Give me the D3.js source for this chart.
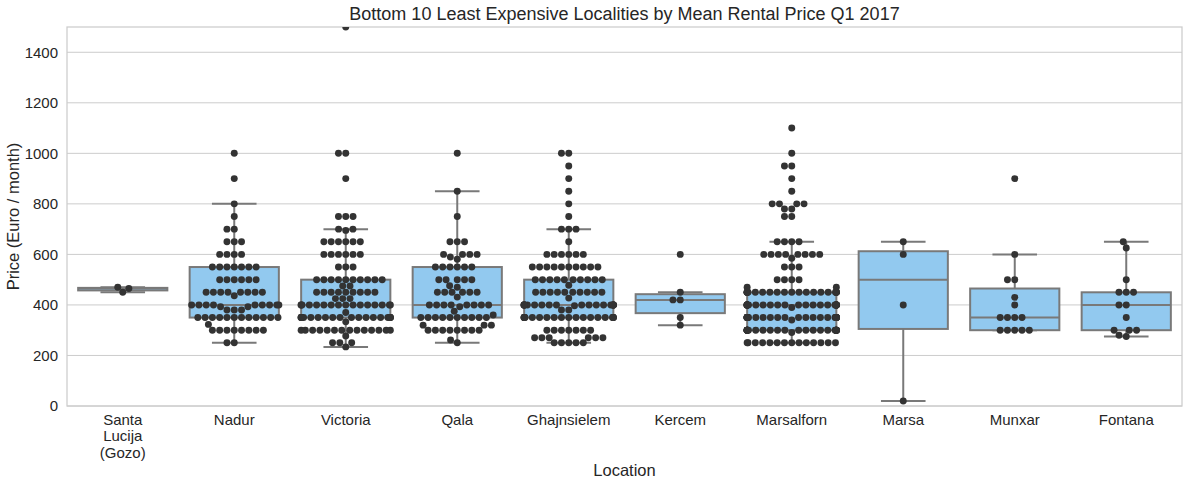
<!DOCTYPE html>
<html><head><meta charset="utf-8">
<script src="https://cdn.jsdelivr.net/npm/d3@7"></script>
<style>
body{margin:0;background:#fff}
svg{font-family:"Liberation Sans",Arial,Helvetica,sans-serif}
</style>
</head><body>
<svg id="chart" width="1190" height="486"></svg>
<script>
// ---------------- data ----------------
const categories = ["Santa Lucija (Gozo)","Nadur","Victoria","Qala","Ghajnsielem","Kercem","Marsalforn","Marsa","Munxar","Fontana"];
const categoryLabels = [["Santa","Lucija","(Gozo)"],["Nadur"],["Victoria"],["Qala"],["Ghajnsielem"],["Kercem"],["Marsalforn"],["Marsa"],["Munxar"],["Fontana"]];
const yTicks = [0,200,400,600,800,1000,1200,1400];

const santaLucija = [450,465,470];
const nadur = [250,250,
  300,300,300,300,300,300,300,300,
  323,
  350,350,350,350,350,350,350,350,350,350,350,350,
  380,380,380,393,393,
  400,400,400,400,400,400,400,400,400,
  436,
  450,450,450,450,450,450,450,450,
  500,500,500,500,500,500,
  550,550,550,550,550,550,550,
  600,600,600,600,
  650,650,650,
  700,700,750,800,900,1000];
const victoria = [234,250,250,250,277,
  300,300,300,300,300,300,300,300,300,300,300,300,300,300,
  333,
  350,350,350,350,350,350,350,350,350,350,350,350,350,350,350,350,350,350,
  370,
  400,400,400,400,400,400,400,400,400,400,400,400,400,400,400,400,
  425,425,425,
  450,450,450,450,450,450,450,450,450,
  475,475,
  500,500,500,500,500,500,500,500,500,500,
  550,550,550,
  600,600,600,600,600,600,
  650,650,650,650,650,650,
  695,700,700,
  750,750,750,900,1000,1000,1500];
const qala = [250,261,
  300,300,300,300,300,300,300,300,
  320,320,320,
  350,350,350,350,350,350,350,350,350,350,
  360,375,393,
  400,400,400,400,400,400,400,400,
  431,
  450,450,450,450,450,450,
  470,476,
  500,500,500,500,500,
  550,550,550,550,550,550,
  581,590,
  600,600,600,600,
  650,650,650,
  750,850,1000];
const ghajnsielem = [250,250,250,250,250,
  270,270,270,270,270,270,
  300,300,300,300,300,300,300,
  350,350,350,350,350,350,350,350,350,350,350,350,350,350,350,350,350,350,350,350,
  380,380,397,
  400,400,400,400,400,400,400,400,400,400,400,400,400,400,400,400,400,400,400,400,
  427,
  450,450,450,450,450,450,450,450,450,450,
  478,
  500,500,500,500,500,500,500,500,500,500,
  550,550,550,550,550,550,550,550,550,550,
  600,600,600,600,600,600,
  650,700,700,700,
  750,800,850,900,950,1000,1000];
const kercem = [320,350,420,420,450,600];
const marsalforn = [
  250,250,250,250,250,250,250,250,250,250,250,250,250,250,
  291,
  300,300,300,300,300,300,300,300,300,300,300,300,300,300,
  300,300,300,300,300,300,300,300,300,300,300,300,300,300,
  340,
  350,350,350,350,350,350,350,350,350,350,350,350,350,350,
  350,350,350,350,350,350,350,350,350,350,350,350,350,350,
  390,
  400,400,400,400,400,400,400,400,400,400,400,400,400,400,
  400,400,400,400,400,400,400,400,400,400,400,400,400,400,
  450,450,450,450,450,450,450,450,450,450,450,
  450,450,450,450,450,450,450,450,450,450,450,
  470,470,
  500,500,500,500,
  550,550,550,
  585,
  600,600,600,600,600,600,600,600,
  650,650,650,650,
  750,750,780,780,
  800,800,800,800,
  850,900,950,950,1000,1100];
const marsa = [20,400,600,650];
const munxar = [300,300,300,300,300,350,350,350,350,400,430,500,500,600,900];
const fontana = [275,280,300,300,300,350,400,400,450,450,450,500,625,650];

const seriesValues = [santaLucija,nadur,victoria,qala,ghajnsielem,kercem,marsalforn,marsa,munxar,fontana];

// ---------------- layout ----------------
const W = 1190, H = 486;
const plot = {left:67, right:1182, top:27, bottom:406};
const svg = d3.select("#chart");
const textColor = "#262626";
const boxFill = "#92c9ef";
const boxLine = "#797979";
const dotColor = "#333333";
const R = 3.47;

const x = d3.scaleBand().domain(categories).range([plot.left, plot.right]).paddingInner(0).paddingOuter(0);
const y = d3.scaleLinear().domain([0,1500]).range([plot.bottom, plot.top]);
const bw = x.bandwidth();

svg.append("rect").attr("width",W).attr("height",H).attr("fill","#fff");

// grid
svg.append("g").selectAll("line").data(yTicks).join("line")
  .attr("x1",plot.left).attr("x2",plot.right)
  .attr("y1",d=>y(d)).attr("y2",d=>y(d))
  .attr("stroke","#cccccc").attr("stroke-width",1);

// spines
svg.append("rect").attr("x",plot.left).attr("y",plot.top)
  .attr("width",plot.right-plot.left).attr("height",plot.bottom-plot.top)
  .attr("fill","none").attr("stroke","#cccccc").attr("stroke-width",1.25);

// y axis labels via axis generator
const yAxis = d3.axisLeft(y).tickValues(yTicks).tickSize(0).tickPadding(9).tickFormat(d3.format("d"));
const gy = svg.append("g").attr("transform",`translate(${plot.left},0)`).call(yAxis);
gy.select(".domain").remove();
gy.selectAll("text").attr("font-size","15px").attr("fill",textColor)
  .attr("font-family","'Liberation Sans',Arial,sans-serif");

// x axis labels
const xAxis = d3.axisBottom(x).tickSize(0).tickFormat("");
const gx = svg.append("g").attr("transform",`translate(0,${plot.bottom})`).call(xAxis);
gx.select(".domain").remove();
gx.selectAll(".tick").each(function(d,i){
  const t = d3.select(this).append("text").attr("fill",textColor)
    .attr("font-size","15px").attr("text-anchor","middle").attr("y",19);
  categoryLabels[i].forEach((ln,k)=>{
    t.append("tspan").attr("x",0).attr("dy",k===0?0:16.3).text(ln);
  });
});

// boxes
const clip = svg.append("clipPath").attr("id","plotclip").append("rect")
  .attr("x",plot.left).attr("y",plot.top).attr("width",plot.right-plot.left).attr("height",plot.bottom-plot.top);

const gBoxes = svg.append("g");
categories.forEach((c,i)=>{
  const vals = seriesValues[i].slice().sort(d3.ascending);
  const q1 = d3.quantile(vals,0.25), med = d3.quantile(vals,0.5), q3 = d3.quantile(vals,0.75);
  const iqr = q3-q1;
  const lo = d3.min(vals.filter(v=>v>=q1-1.5*iqr));
  const hi = d3.max(vals.filter(v=>v<=q3+1.5*iqr));
  const cx = x(c)+bw/2;
  const g = gBoxes.append("g").attr("stroke",boxLine).attr("stroke-width",2);
  g.append("line").attr("x1",cx).attr("x2",cx).attr("y1",y(q3)).attr("y2",y(hi));
  g.append("line").attr("x1",cx).attr("x2",cx).attr("y1",y(q1)).attr("y2",y(lo));
  g.append("line").attr("x1",cx-bw*0.2).attr("x2",cx+bw*0.2).attr("y1",y(hi)).attr("y2",y(hi));
  g.append("line").attr("x1",cx-bw*0.2).attr("x2",cx+bw*0.2).attr("y1",y(lo)).attr("y2",y(lo));
  g.append("rect").attr("x",cx-bw*0.4).attr("width",bw*0.8)
    .attr("y",y(q3)).attr("height",Math.max(y(q1)-y(q3),0.01)).attr("fill",boxFill);
  g.append("line").attr("x1",cx-bw*0.4).attr("x2",cx+bw*0.4).attr("y1",y(med)).attr("y2",y(med));
});

// swarm (seaborn-like beeswarm)
function beeswarm(vals, mid){
  const pts = vals.map(v=>({v, x:mid, y:y(v)})).sort((a,b)=>a.v-b.v);
  const swarm = [];
  const d2 = (2*R)*(2*R);
  pts.forEach(p=>{
    const neighbors = [];
    for(let j=swarm.length-1;j>=0;j--){
      if (swarm[j].y - p.y < 2*R) neighbors.push(swarm[j]); else break;
    }
    neighbors.reverse();
    if(neighbors.length===0){ p.x = mid; swarm.push(p); return; }
    let cands = [mid];
    let leftFirst = true;
    neighbors.forEach(nb=>{
      const dy = p.y-nb.y;
      const dx = Math.sqrt(Math.max(d2-dy*dy,0))*1.05;
      if(leftFirst) cands.push(nb.x-dx, nb.x+dx); else cands.push(nb.x+dx, nb.x-dx);
      leftFirst = !leftFirst;
    });
    cands = cands.map((cx,k)=>({cx,k})).sort((a,b)=>(Math.abs(a.cx-mid)-Math.abs(b.cx-mid))||(a.k-b.k));
    let chosen = null;
    for(const c of cands){
      let ok = true;
      for(const nb of neighbors){
        const dx = nb.x-c.cx, dy = nb.y-p.y;
        if(dx*dx+dy*dy < d2 - 1e-9){ ok=false; break; }
      }
      if(ok){ chosen=c.cx; break; }
    }
    p.x = chosen===null ? mid : chosen;
    swarm.push(p);
  });
  const half = bw*0.4;
  swarm.forEach(p=>{ if(p.x<mid-half) p.x=mid-half; if(p.x>mid+half) p.x=mid+half; });
  return swarm;
}

const gDots = svg.append("g").attr("clip-path","url(#plotclip)");
categories.forEach((c,i)=>{
  const mid = x(c)+bw/2;
  const sw = beeswarm(seriesValues[i], mid);
  gDots.append("g").selectAll("circle").data(sw).join("circle")
    .attr("cx",d=>d.x).attr("cy",d=>d.y).attr("r",R).attr("fill",dotColor);
});

// titles
svg.append("text").attr("x",(plot.left+plot.right)/2).attr("y",20)
  .attr("text-anchor","middle").attr("font-size","18px").attr("fill",textColor)
  .text("Bottom 10 Least Expensive Localities by Mean Rental Price Q1 2017");
svg.append("text").attr("x",(plot.left+plot.right)/2).attr("y",476)
  .attr("text-anchor","middle").attr("font-size","16.5px").attr("fill",textColor)
  .text("Location");
svg.append("text").attr("transform",`translate(19,${(plot.top+plot.bottom)/2}) rotate(-90)`)
  .attr("text-anchor","middle").attr("font-size","16.5px").attr("fill",textColor)
  .text("Price (Euro / month)");
</script>
</body></html>
